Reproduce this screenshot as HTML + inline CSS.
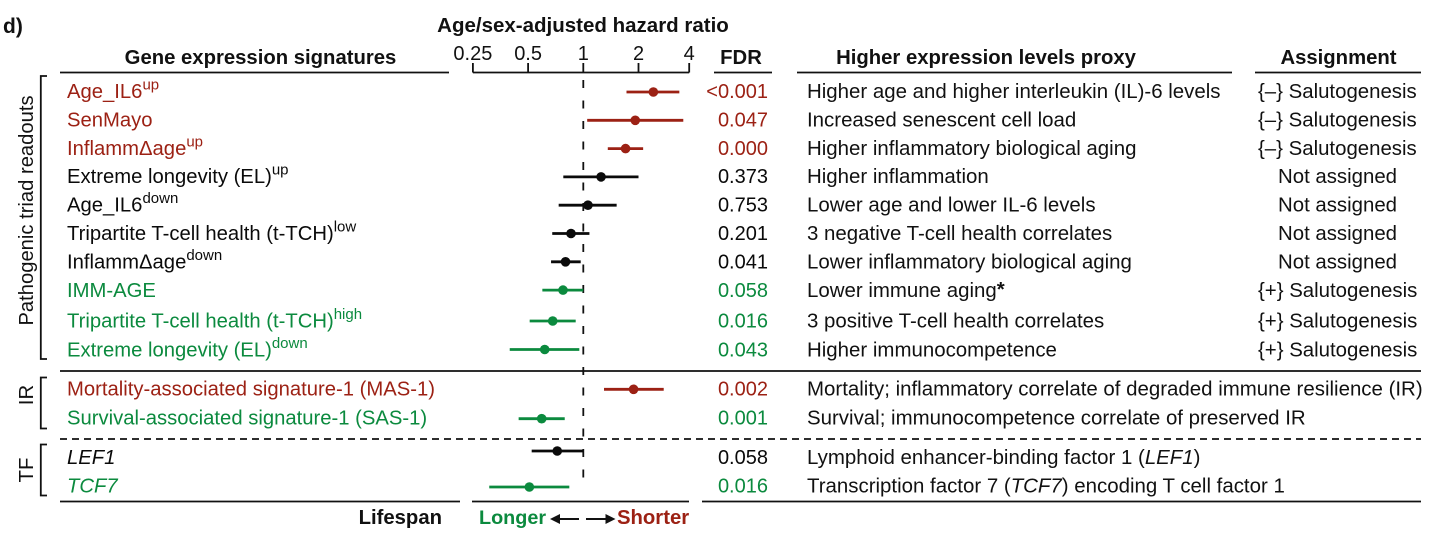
<!DOCTYPE html>
<html lang="en">
<head>
<meta charset="utf-8">
<title>Age/sex-adjusted hazard ratio forest plot</title>
<style>
  html, body { margin: 0; padding: 0; background: #fff; }
  body { width: 1456px; height: 533px; overflow: hidden; }
  svg { display: block; font-family: "Liberation Sans", Arial, sans-serif; }
  text { font-size: 20.4px; fill: #111; }
  .head { font-weight: bold; font-size: 20.3px; }
</style>
</head>
<body>
<svg id="chart" width="1456" height="533" viewBox="0 0 1456 533" xmlns="http://www.w3.org/2000/svg">
  <text x="3" y="33" style="font-size:21px;font-weight:bold">d)</text>
  <text x="583" y="32" text-anchor="middle" class="head" style="font-size:20.5px">Age/sex-adjusted hazard ratio</text>
  <text x="260.5" y="64" text-anchor="middle" class="head">Gene expression signatures</text>
  <text x="741" y="64" text-anchor="middle" class="head">FDR</text>
  <text x="986" y="64" text-anchor="middle" class="head">Higher expression levels proxy</text>
  <text x="1338.5" y="64" text-anchor="middle" class="head">Assignment</text>

  <g stroke="#111" stroke-width="1.8" fill="none">
    <line x1="60" y1="72.5" x2="449" y2="72.5"/>
    <line x1="714" y1="72.5" x2="772" y2="72.5"/>
    <line x1="797" y1="72.5" x2="1232" y2="72.5"/>
    <line x1="1255" y1="72.5" x2="1421" y2="72.5"/>
    <line x1="60" y1="371" x2="1421" y2="371"/>
    <line x1="60" y1="439" x2="1421" y2="439" stroke-dasharray="7 5"/>
    <line x1="60" y1="501.5" x2="460" y2="501.5"/>
    <line x1="472" y1="501.5" x2="689" y2="501.5"/>
    <line x1="702" y1="501.5" x2="1421" y2="501.5"/>
    <path d="M47 76H40.8V359H47"/>
    <path d="M47 377.5H40.8V428.5H47"/>
    <path d="M47 444.5H40.8V495.5H47"/>
  </g>

  <text transform="translate(33,210.5) rotate(-90)" text-anchor="middle" style="font-size:20.2px">Pathogenic triad readouts</text>
  <text transform="translate(33,395) rotate(-90)" text-anchor="middle">IR</text>
  <text transform="translate(33,470) rotate(-90)" text-anchor="middle">TF</text>

  <g id="axis"></g>
  <g id="rows"></g>
  <g id="marks"></g>

  <text x="442" y="524" text-anchor="end" class="head">Lifespan</text>
  <text x="479" y="524" class="head" style="fill:#0b8a3e;font-size:19.8px">Longer</text>
  <text x="617" y="524" class="head" style="fill:#9c2114">Shorter</text>
  <g stroke="#111" stroke-width="2" fill="#111">
    <line x1="556" y1="519" x2="579" y2="519"/>
    <path d="M550 519l10-5v10z" stroke="none"/>
    <line x1="586" y1="519" x2="609" y2="519"/>
    <path d="M615.5 519l-10-5v10z" stroke="none"/>
  </g>
</svg>
<script>
// Chart data
var categories = ["Age_IL6", "SenMayo", "Inflamm\u0394age", "Extreme longevity (EL)", "Age_IL6", "Tripartite T-cell health (t-TCH)", "Inflamm\u0394age", "IMM-AGE", "Tripartite T-cell health (t-TCH)", "Extreme longevity (EL)", "Mortality-associated signature-1 (MAS-1)", "Survival-associated signature-1 (SAS-1)", "LEF1", "TCF7"];
var categorySuffix = ["up", "", "up", "up", "down", "low", "down", "", "high", "down", "", "", "", ""];
var hazardRatio = [2.41, 1.92, 1.70, 1.25, 1.06, 0.857, 0.80, 0.775, 0.681, 0.616, 1.88, 0.593, 0.721, 0.508];
var ciLow = [1.72, 1.05, 1.36, 0.778, 0.734, 0.677, 0.667, 0.598, 0.51, 0.397, 1.297, 0.444, 0.523, 0.307];
var ciHigh = [3.34, 3.51, 2.12, 2.0, 1.52, 1.08, 0.968, 1.0, 0.909, 0.951, 2.745, 0.792, 1.0, 0.839];
var fdrLabels = ["<0.001", "0.047", "0.000", "0.373", "0.753", "0.201", "0.041", "0.058", "0.016", "0.043", "0.002", "0.001", "0.058", "0.016"];
var effectClass = ["risk", "risk", "risk", "none", "none", "none", "none", "protect", "protect", "protect", "risk", "protect", "none", "protect"];
var proxyText = [
  "Higher age and higher interleukin (IL)-6 levels",
  "Increased senescent cell load",
  "Higher inflammatory biological aging",
  "Higher inflammation",
  "Lower age and lower IL-6 levels",
  "3 negative T-cell health correlates",
  "Lower inflammatory biological aging",
  "Lower immune aging<tspan font-weight=\"bold\" dy=\"-1\">*</tspan>",
  "3 positive T-cell health correlates",
  "Higher immunocompetence",
  "Mortality; inflammatory correlate of degraded immune resilience (IR)",
  "Survival; immunocompetence correlate of preserved IR",
  "Lymphoid enhancer-binding factor 1 (<tspan font-style=\"italic\">LEF1</tspan>)",
  "Transcription factor 7 (<tspan font-style=\"italic\">TCF7</tspan>) encoding T cell factor 1"
];
var assignmentLabels = ["{\u2013} Salutogenesis", "{\u2013} Salutogenesis", "{\u2013} Salutogenesis", "Not assigned", "Not assigned", "Not assigned", "Not assigned", "{+} Salutogenesis", "{+} Salutogenesis", "{+} Salutogenesis", "", "", "", ""];
var tickValues = [0.25, 0.5, 1, 2, 3.78];
var tickLabels = ["0.25", "0.5", "1", "2", "4"];
var referenceValue = 1;

// Axis functions
var palette = { risk: "#9c2114", none: "#0a0a0a", protect: "#0b8a3e" };
var NS = "http://www.w3.org/2000/svg";

function xScale(v) {
  return 583.3 + 55.2 * Math.log2(v);
}
function markY(i) {
  if (i < 8) return 92 + 28.3 * i;
  if (i < 10) return 321 + 28.5 * (i - 8);
  if (i < 12) return 389.3 + 29.4 * (i - 10);
  return 451 + 36 * (i - 12);
}
function textY(i) {
  if (i < 8) return 98 + 28.4 * i;
  if (i < 10) return 327.3 + 29 * (i - 8);
  if (i < 12) return 395.5 + 29 * (i - 10);
  return 464 + 28.7 * (i - 12);
}
function make(tag, attrs, parent) {
  var el = document.createElementNS(NS, tag);
  for (var k in attrs) el.setAttribute(k, attrs[k]);
  parent.appendChild(el);
  return el;
}

var axisG = document.getElementById("axis");
var rowsG = document.getElementById("rows");
var marksG = document.getElementById("marks");

// Axis line, ticks and labels
var axisLine = make("line", { x1: xScale(tickValues[0]), x2: xScale(tickValues[tickValues.length - 1]), y1: 72.5, y2: 72.5, stroke: "#111", "stroke-width": 1.8 }, axisG);


tickValues.forEach(function (v, t) {
  var tick = make("line", { x1: xScale(v), x2: xScale(v), y1: 63, y2: 72.5, stroke: "#111", "stroke-width": 1.8 }, axisG);
  
  
  var lab = make("text", { x: xScale(v), y: 60, "text-anchor": "middle" }, axisG);
  lab.style.fontSize = "20px";
  lab.textContent = tickLabels[t];
  
  
});

// Reference line at HR = 1
var refLine = make("line", { x1: xScale(referenceValue), x2: xScale(referenceValue), y1: 80, y2: 488, stroke: "#111", "stroke-width": 1.8, "stroke-dasharray": "8 12.5" }, marksG);



// Rows
categories.forEach(function (name, i) {
  var col = palette[effectClass[i]];
  var y = textY(i);

  var label = make("text", { x: 67, y: y }, rowsG);
  label.style.fill = col;
  label.style.fontSize = "20.25px";
  if (i >= 12) label.setAttribute("font-style", "italic");
  label.textContent = name;
  if (categorySuffix[i]) {
    var sup = make("tspan", { dy: -8.5 }, label);
    sup.style.fontSize = "15px";
    sup.textContent = categorySuffix[i];
  }
  
  

  var fdr = make("text", { x: 768, y: y, "text-anchor": "end" }, rowsG);
  fdr.style.fill = col;
  fdr.style.fontSize = "20px";
  fdr.textContent = fdrLabels[i];
  
  

  var proxy = make("text", { x: 807, y: y }, rowsG);
  proxy.style.fontSize = "20.45px";
  proxy.innerHTML = proxyText[i];
  
  

  if (assignmentLabels[i]) {
    var assign = make("text", { x: assignmentLabels[i] === "Not assigned" ? 1278 : 1258, y: y }, rowsG);
    assign.textContent = assignmentLabels[i];
    
    
  }

  var my = markY(i);
  var ci = make("line", { x1: xScale(ciLow[i]), x2: xScale(ciHigh[i]), y1: my, y2: my, stroke: col, "stroke-width": 2.8 }, marksG);
  
  

  var pt = make("circle", { cx: xScale(hazardRatio[i]), cy: my, r: 4.8, fill: col }, marksG);
  
  
});
</script>
</body>
</html>
